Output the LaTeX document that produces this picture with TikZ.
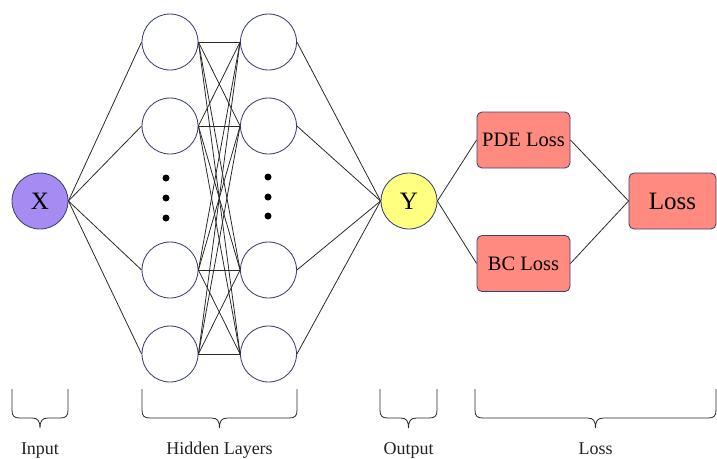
\documentclass[tikz,border=0pt]{standalone}
\usepackage{fontspec}
\setmainfont{Liberation Serif}
\definecolor{neuronedge}{HTML}{3C4172}
\definecolor{inputfill}{HTML}{A68CF2}
\definecolor{outputfill}{HTML}{FFFF80}
\definecolor{lossfill}{HTML}{FF8A80}
\definecolor{wire}{HTML}{2A2A2A}
\definecolor{labeltext}{HTML}{222222}
\tikzset{
  neuron/.style={circle, draw=neuronedge, line width=0.85pt, minimum size=56pt, inner sep=0pt, fill=white},
  lossbox/.style={rectangle, rounded corners=5pt, draw=neuronedge, line width=0.85pt, fill=lossfill, inner sep=0pt},
  wireline/.style={draw=wire, line width=0.8pt},
  bracestyle/.style={draw=wire, line width=0.8pt},
  grouplabel/.style={anchor=base, font=\fontsize{18}{21}\selectfont, text=labeltext, inner sep=0pt},
  layerdot/.style={circle, fill=black, minimum size=7pt, inner sep=0pt},
}
% curly brace opening upward under a group, from x=#1 to x=#2
\newcommand{\bottombrace}[2]{%
  \draw[bracestyle] (#1,389) -- (#1,410)
    .. controls (#1,416) and ({#1+2},418) .. ({#1+8},418)
    -- ({(#1+#2)/2-8},418)
    .. controls ({(#1+#2)/2-2},418) and ({(#1+#2)/2},421) .. ({(#1+#2)/2},428)
    .. controls ({(#1+#2)/2},421) and ({(#1+#2)/2+2},418) .. ({(#1+#2)/2+8},418)
    -- ({#2-8},418)
    .. controls ({#2-2},418) and (#2,416) .. (#2,410) -- (#2,389);}
\begin{document}
\begin{tikzpicture}[x=1pt, y=-1pt]
\useasboundingbox (0,0) rectangle (717,458);

% input and output neurons
\node[neuron, fill=inputfill, font=\fontsize{25}{28}\selectfont] (X) at (40,201) {X};
\node[neuron, fill=outputfill, font=\fontsize{25}{28}\selectfont] (Y) at (409,201) {Y};

% hidden layers
\foreach \i/\yy in {1/42, 2/126, 3/270, 4/354} {
  \node[neuron] (a\i) at (170,\yy) {};
  \node[neuron] (b\i) at (268.5,\yy) {};
}

% ellipsis dots
\node[layerdot] (da1) at (166,178) {};
\node[layerdot] (da2) at (166,198) {};
\node[layerdot] (da3) at (166,218) {};
\node[layerdot] (db1) at (268,177) {};
\node[layerdot] (db2) at (268,197) {};
\node[layerdot] (db3) at (268,216) {};

% connections
\foreach \i in {1,...,4} {
  \draw[wireline] (X.east) -- (a\i.west);
  \draw[wireline] (b\i.east) -- (Y.west);
  \foreach \j in {1,...,4} {
    \draw[wireline] (a\i.east) -- (b\j.west);
  }
}

% loss terms
\node[lossbox, minimum width=93pt, minimum height=56pt, font=\fontsize{20.5}{24}\selectfont] (pde) at (523.5,140) {PDE Loss};
\node[lossbox, minimum width=93pt, minimum height=56pt, font=\fontsize{20.5}{24}\selectfont] (bc) at (523.5,263.5) {BC Loss};
\node[lossbox, minimum width=87pt, minimum height=56pt, font=\fontsize{25}{28}\selectfont] (loss) at (672.5,201) {Loss};

\draw[wireline] (Y.east) -- (pde.west);
\draw[wireline] (Y.east) -- (bc.west);
\draw[wireline] (pde.east) -- (loss.west);
\draw[wireline] (bc.east) -- (loss.west);

% group braces and labels
\bottombrace{12}{68}
\bottombrace{142}{297}
\bottombrace{380}{437}
\bottombrace{475}{716}
\node[grouplabel] (linput) at (40,454) {Input};
\node[grouplabel] (lhidden) at (219.5,454) {Hidden Layers};
\node[grouplabel] (loutput) at (408.5,454) {Output};
\node[grouplabel] (lloss) at (595.5,454) {Loss};
\end{tikzpicture}
\end{document}
